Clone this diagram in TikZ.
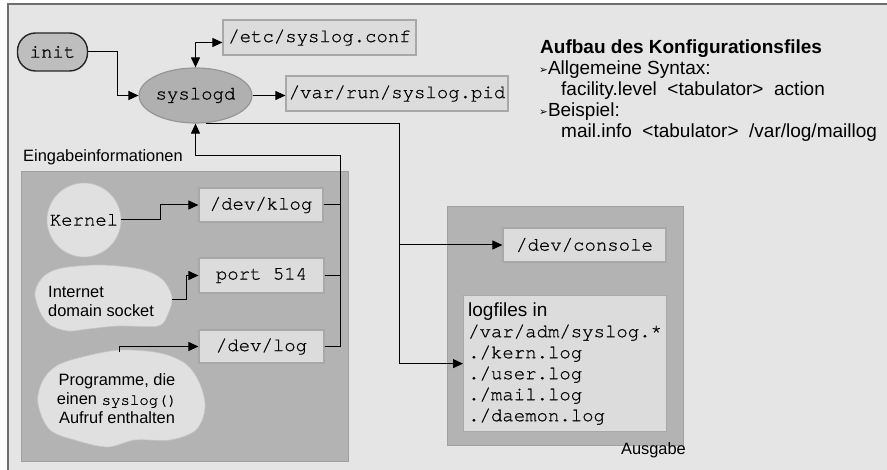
\documentclass[tikz,border=0pt]{standalone}
\usepackage{fontspec}
\setmainfont{Liberation Sans}
\setmonofont[RawFeature={embolden=0.7}]{TeX Gyre Cursor}
\newfontfamily\symfont{DejaVu Sans}
\usetikzlibrary{shapes.geometric,arrows.meta,calc}

\definecolor{pagebg}{HTML}{E5E5E5}
\definecolor{frameedge}{HTML}{6E6E6E}
\definecolor{groupfill}{HTML}{B3B3B3}
\definecolor{groupedge}{HTML}{A0A0A0}
\definecolor{boxfill}{HTML}{DCDCDC}
\definecolor{boxedge}{HTML}{A8A8A8}
\definecolor{daemonfill}{HTML}{B0B0B0}
\definecolor{daemonedge}{HTML}{969696}
\definecolor{initfill}{HTML}{BEBEBE}
\definecolor{softfill}{HTML}{E0E0E0}
\definecolor{softedge}{HTML}{C4C4C4}

\newcommand{\monobig}{\ttfamily\fontsize{19}{21}\selectfont}
\newcommand{\labelsmall}{\rmfamily\fontsize{16.4}{19}\selectfont}
\newcommand{\bulletmark}{\raisebox{1.5pt}{\symfont\fontsize{10.5}{21}\selectfont ➢}}

\begin{document}
\begin{tikzpicture}[x=1pt,y=-1pt,
  filebox/.style={draw=boxedge, fill=boxfill, line width=1.2pt, inner sep=0pt, font=\monobig},
  groupbox/.style={draw=groupedge, fill=groupfill, line width=1pt, inner sep=0pt},
  daemon/.style={ellipse, draw=daemonedge, fill=daemonfill, line width=1.2pt, inner sep=0pt, font=\monobig},
  pill/.style={draw=black!85, fill=initfill, rounded corners=18pt, line width=1.4pt, inner sep=0pt, font=\monobig},
  softshape/.style={fill=softfill, draw=softedge, line width=0.6pt},
  smalllabel/.style={inner sep=0pt, font=\labelsmall},
  flow/.style={draw=black, line width=1pt, -{Triangle[length=10pt,width=9pt]}},
  flowboth/.style={draw=black, line width=1pt, {Triangle[length=10pt,width=9pt]}-{Triangle[length=10pt,width=9pt]}},
  wire/.style={draw=black, line width=1pt}
]
\useasboundingbox (0,0) rectangle (887,470);
\clip (0,0) rectangle (887,470);
\fill[white] (0,0) rectangle (887,470);
\draw[fill=pagebg, draw=frameedge, line width=2pt] (8,4) rectangle (895,480);

% group areas
\node[groupbox, minimum width=327pt, minimum height=290pt] (ingroup) at (184.5,317) {};
\node[groupbox, minimum width=236pt, minimum height=239pt] (outgroup) at (565,326.5) {};
\node[smalllabel, anchor=base west] (inlabel) at (23,162) {Eingabeinformationen};
\node[smalllabel, anchor=base east] (outlabel) at (686,455) {Ausgabe};

% daemon and its files
\node[pill, minimum width=70pt, minimum height=38pt] (init) at (52.5,52) {init};
\node[daemon, minimum width=99pt, minimum height=55pt] (syslogd) at (195.5,95.5) {syslogd};
\node[filebox, minimum width=193pt, minimum height=35pt] (conf) at (319.5,37.5) {/etc/syslog.conf};
\node[filebox, minimum width=222pt, minimum height=35pt] (pid) at (397,93.5) {/var/run/syslog.pid};

% inputs
\node[circle, softshape, minimum size=74pt, inner sep=0pt, font=\monobig] (kernel) at (84,220) {Kernel};
\node[filebox, minimum width=124pt, minimum height=34pt] (klog) at (261,205) {/dev/klog};
\node[filebox, minimum width=125pt, minimum height=35pt] (port) at (261.5,275.5) {port 514};
\node[filebox, minimum width=125pt, minimum height=33pt] (devlog) at (261.5,346.5) {/dev/log};

\path[softshape] plot[smooth cycle, tension=0.55] coordinates {
  (44,276) (62,268) (100,265) (140,269) (162,279) (172,297) (168,314)
  (158,326) (118,326) (88,329) (68,331) (50,325) (40,312) (35,292)};
\node[smalllabel, align=left, anchor=west] (inet) at (48,301) {Internet\\domain socket};

\path[softshape] plot[smooth cycle, tension=0.55] coordinates {
  (56,366) (82,357) (120,350) (160,353) (186,364) (200,384) (205,408)
  (196,430) (170,440) (135,440) (108,447) (78,441) (50,430) (38,404) (42,382)};
\node[smalllabel, align=center] (prog) at (117,399)
  {Programme, die\\einen {\ttfamily\fontsize{15.7}{19}\selectfont syslog()}\\Aufruf enthalten};

% outputs
\node[filebox, minimum width=163pt, minimum height=34pt] (console) at (584.5,245) {/dev/console};
\node[filebox, anchor=north west, minimum width=203pt, minimum height=136pt, align=left] (logfiles) at (463,295)
  {{\rmfamily logfiles in}\\/var/adm/syslog.*\\./kern.log\\./user.log\\./mail.log\\./daemon.log};

% configuration notes (base anchor sits on the last line)
\node[inner sep=0pt, anchor=base west, align=left, font=\rmfamily\fontsize{19}{21}\selectfont] (cfg) at (539,138)
  {\textbf{\hspace{1pt}Aufbau des Konfigurationsfiles}\\
   \bulletmark Allgemeine Syntax:\\
   \hspace{22pt}facility.level\ \ <tabulator>\ \ action\\
   \bulletmark Beispiel:\\
   \hspace{22pt}mail.info\ \ <tabulator>\ \ /var/log/maillog};

% connectors around the daemon
\draw[flow] (init.east) -- ++(29,0) |- (syslogd.west);
\draw[flowboth] (syslogd.north) |- ([yshift=-5pt]conf.west);
\draw[flow] (syslogd.east) -- (syslogd.east -| pid.west);

% input bus
\coordinate (bus) at (340,156);
\coordinate (inetout) at (172,300);
\coordinate (progout) at (119,352);
\draw[flow] (kernel.east) -- ++(39,0) |- (klog.west);
\draw[flow] (inetout) -- ++(14,0) |- (port.west);
\draw[flow] (progout) |- (devlog.west);
\draw[wire] (klog.east) -- (klog.east -| bus);
\draw[wire] (port.east) -- (port.east -| bus);
\draw[flow] (devlog.east) -| (bus) -| (syslogd.south);

% output fan
\coordinate (split) at (399,245);
\draw[flow] (syslogd.-70) -| (split) -- (console.west);
\draw[flow] (split) |- (logfiles.west);
\end{tikzpicture}
\end{document}
